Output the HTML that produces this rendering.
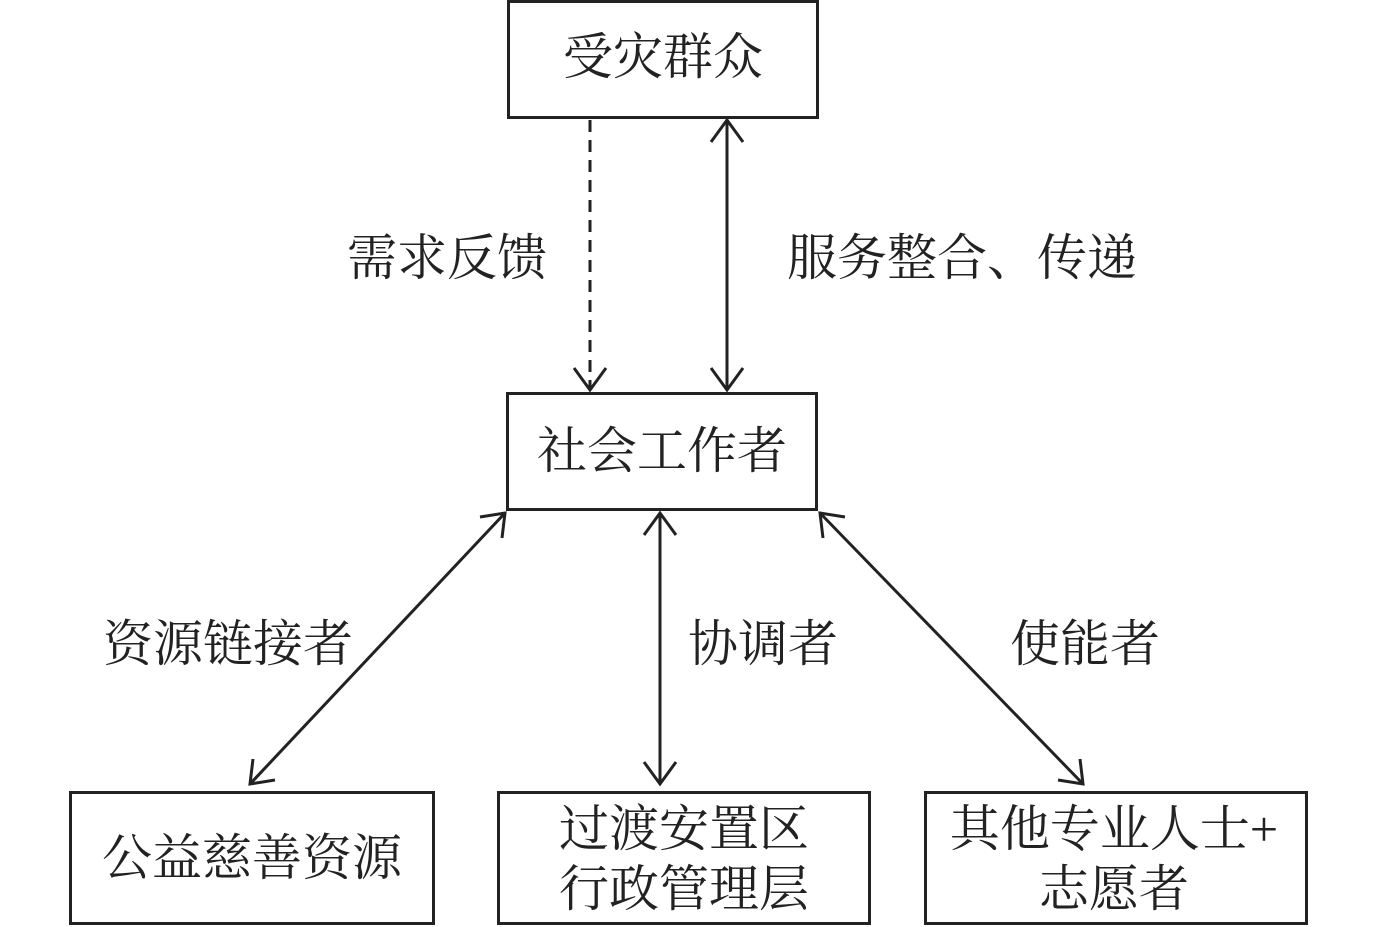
<!DOCTYPE html>
<html><head><meta charset="utf-8"><style>
html,body{margin:0;padding:0;background:#fff;}
svg{display:block;}
text{font-family:"Liberation Serif","Noto Serif CJK SC",serif;font-size:50px;fill:#222;}
</style></head><body>
<svg width="1378" height="927" viewBox="0 0 1378 927" xmlns="http://www.w3.org/2000/svg">
<g fill="none" stroke="#222" stroke-width="3">
<rect x="508.5" y="1.5" width="309" height="116"/>
<rect x="507.5" y="393.5" width="309" height="116"/>
<rect x="70.5" y="792.5" width="363" height="131"/>
<rect x="498.5" y="792.5" width="371" height="131"/>
<rect x="925.5" y="792.5" width="381" height="131"/>
<line x1="590" y1="120" x2="590" y2="388" stroke-dasharray="12,8"/>
<polyline points="574,368 590,390 606,368"/>
<line x1="727" y1="120" x2="727" y2="390"/>
<polyline points="711,142 727,120 743,142"/>
<polyline points="711,368 727,390 743,368"/>
<line x1="660" y1="513" x2="660" y2="784"/>
<polyline points="644,535 660,513 676,535"/>
<polyline points="644,762 660,784 676,762"/>
<line x1="505" y1="513" x2="250" y2="784"/>
<polyline points="480,517 505,513 502,538"/>
<polyline points="253,759 250,784 275,780"/>
<line x1="820" y1="513" x2="1083" y2="784"/>
<polyline points="823,538 820,513 845,517"/>
<polyline points="1058,780 1083,784 1080,759"/>
</g>
<g text-anchor="middle">
<text x="663" y="74">受灾群众</text>
<text x="662" y="468">社会工作者</text>
<text x="252" y="875">公益慈善资源</text>
<text x="684" y="846">过渡安置区</text>
<text x="684" y="906">行政管理层</text>
<text x="1114" y="846">其他专业人士+</text>
<text x="1114" y="906">志愿者</text>
<text x="447" y="275">需求反馈</text>
<text x="962" y="275">服务整合、传递</text>
<text x="228" y="661">资源链接者</text>
<text x="763" y="661">协调者</text>
<text x="1085" y="661">使能者</text>
</g>
</svg>
</body></html>
